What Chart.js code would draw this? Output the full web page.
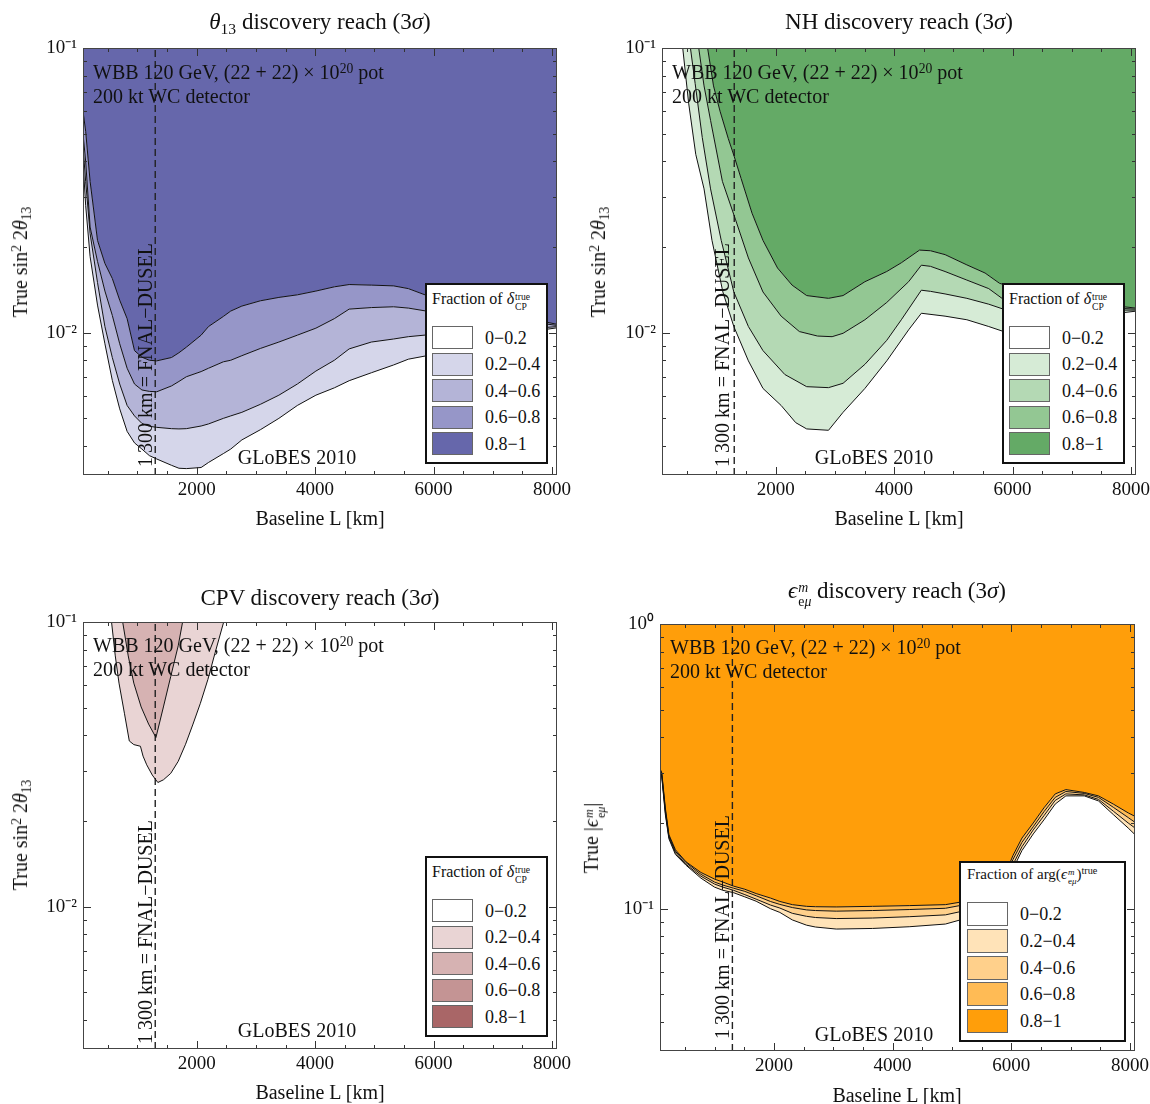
<!DOCTYPE html>
<html><head><meta charset="utf-8">
<script src="https://cdn.jsdelivr.net/npm/chart.js@4.4.1/dist/chart.umd.min.js"></script>
<style>
html,body{margin:0;padding:0;background:#fff;overflow:hidden;}
body{width:1150px;height:1104px;position:relative;font-family:"Liberation Serif","Times New Roman",serif;color:#111;}
.cv{position:absolute;}
.t{position:absolute;white-space:nowrap;transform:translate(-50%,-50%);line-height:1;}
.title{font-size:23px;}
.xl{font-size:20px;}
.rot{font-size:20px;transform:translate(-50%,-50%) rotate(-90deg);}
.ann{position:absolute;font-size:20px;line-height:24px;white-space:nowrap;}
.glo{font-size:20px;}
sup.s{font-size:0.68em;vertical-align:0;position:relative;top:-0.45em;line-height:0;}
sub.s{font-size:0.68em;vertical-align:0;position:relative;top:0.3em;line-height:0;}
.ss{display:inline-flex;flex-direction:column;font-size:0.6em;line-height:1;vertical-align:0.4em;margin-left:1px;}
.leg{position:absolute;background:#fff;border:2px solid #111;box-sizing:border-box;}
.lh{position:absolute;white-space:nowrap;line-height:1;transform:translateY(-50%);}
.sw{position:absolute;border:1px solid #666;box-sizing:border-box;}
.ll{position:absolute;font-size:18px;white-space:nowrap;line-height:1;transform:translateY(-50%);}
</style></head>
<body>
<script>
// ---------- tick values ----------
const xTickLabels = [2000, 4000, 6000, 8000];
const xTickMarks = [500,1000,1500,2000,2500,3000,3500,4000,4500,5000,5500,6000,6500,7000,7500,8000];
const yTickMarksTheta = [0.004,0.005,0.006,0.007,0.008,0.009,0.01,0.02,0.03,0.04,0.05,0.06,0.07,0.08,0.09,0.1];
const yTickLabelsTheta = [0.01, 0.1];
const yTickMarksEps = [0.04,0.05,0.06,0.07,0.08,0.09,0.1,0.2,0.3,0.4,0.5,0.6,0.7,0.8,0.9,1];
const yTickLabelsEps = [0.1, 1];
const fractionLabels = ['0\u22120.2','0.2\u22120.4','0.4\u22120.6','0.6\u22120.8','0.8\u22121'];

// ---------- panel 1: theta13 discovery (shared baseline grid) ----------
const thX   = [80,125,200,325,450,575,700,825,950,1075,1200,1325,1575,1700,1825,2075,2200,2450,2575,2763,3075,3388,3700,4013,4325,4575,4950,5325,5575,5888,6500,7200,7800,8085];
const thF08 = [0.060,0.051,0.034,0.0211,0.0175,0.0155,0.0130,0.0112,0.00865,0.0082,0.0080,0.00796,0.00818,0.0085,0.00889,0.0098,0.01051,0.0114,0.01191,0.0124,0.01294,0.0133,0.01358,0.0140,0.01449,0.01476,0.01469,0.0146,0.01428,0.0135,0.0125,0.0117,0.0110,0.0107];
const thF06 = [0.050,0.040,0.0235,0.0178,0.0140,0.0115,0.00914,0.0075,0.0066,0.00629,0.00622,0.0062,0.0065,0.00674,0.0070,0.0073,0.0075,0.0079,0.0080,0.0083,0.0088,0.00927,0.0098,0.01037,0.0112,0.0121,0.01225,0.01233,0.0122,0.0119,0.0115,0.0111,0.0108,0.0106];
const thF04 = [0.045,0.034,0.0223,0.0150,0.0105,0.00818,0.0066,0.00555,0.0051,0.0048,0.00469,0.00465,0.0046,0.00459,0.0046,0.0047,0.00478,0.0050,0.0051,0.00525,0.0056,0.00603,0.0066,0.00733,0.0080,0.00877,0.00927,0.0095,0.00968,0.00982,0.0100,0.0102,0.0104,0.0105];
const thF02 = [0.040,0.028,0.0185,0.0125,0.00914,0.0068,0.0054,0.0045,0.0041,0.0039,0.0037,0.0036,0.00342,0.00334,0.00333,0.00336,0.0035,0.00376,0.0039,0.0042,0.00456,0.0050,0.00555,0.00603,0.0064,0.00678,0.00723,0.0077,0.00807,0.0083,0.0090,0.0097,0.0102,0.0104];

// ---------- panel 2: NH discovery ([baseline, sin^2 2theta13]) ----------
const nhF08 = [[80,3],[850,0.1],[950,0.0736],[1060,0.060],[1200,0.048],[1293,0.042],[1416,0.0348],[1600,0.0263],[1785,0.0211],[2031,0.01687],[2277,0.01469],[2523,0.0135],[2892,0.0132],[3138,0.0135],[3507,0.0151],[3876,0.0164],[4122,0.0176],[4429,0.0195],[4614,0.0194],[4860,0.0188],[5229,0.0173],[5536,0.0162],[5782,0.0149],[6500,0.0135],[7300,0.0127],[8085,0.0122]];
const nhF06 = [[80,3],[700,0.1],[790,0.0736],[900,0.0557],[1100,0.034],[1323,0.0249],[1539,0.0183],[1785,0.0139],[2092,0.01143],[2400,0.01009],[2707,0.00973],[2953,0.00968],[3138,0.00995],[3507,0.0111],[3876,0.01277],[4245,0.0151],[4460,0.01726],[4614,0.0171],[4860,0.0164],[5229,0.0153],[5598,0.01428],[5844,0.0131],[6500,0.0126],[7300,0.0123],[8085,0.0121]];
const nhF04 = [[80,3],[560,0.1],[640,0.075],[760,0.0485],[900,0.032],[1080,0.0211],[1293,0.0139],[1539,0.01051],[1785,0.00865],[2154,0.00713],[2523,0.00646],[2892,0.00641],[3138,0.00664],[3507,0.00774],[3876,0.0094],[4122,0.0111],[4460,0.0141],[4614,0.01397],[4860,0.01368],[5229,0.0132],[5598,0.01259],[5844,0.0121],[6500,0.0120],[7300,0.0120],[8085,0.0120]];
const nhF02 = [[80,3],[430,0.1],[530,0.064],[650,0.0423],[790,0.032],[924,0.0211],[1108,0.0139],[1293,0.01051],[1539,0.00796],[1785,0.00637],[2092,0.00555],[2338,0.00483],[2523,0.00459],[2892,0.00454],[3138,0.00525],[3507,0.00637],[3876,0.00796],[4245,0.01023],[4460,0.0117],[4860,0.01143],[5229,0.0111],[5598,0.01051],[5844,0.0101],[6500,0.0106],[7300,0.0114],[8085,0.0119]];

// ---------- panel 3: CPV discovery ----------
const cpvInner = [[80,3],[750,0.1],[844,0.076],[938,0.061],[1062,0.0503],[1188,0.0438],[1312,0.0393],[1438,0.0503],[1562,0.0644],[1688,0.0825],[1762,0.1],[8085,3]];
const cpvOuter = [[80,3],[562,0.1],[625,0.076],[688,0.061],[781,0.0476],[862,0.0382],[938,0.0371],[1050,0.0366],[1094,0.0338],[1156,0.0315],[1250,0.029],[1344,0.0273],[1438,0.0279],[1562,0.0294],[1688,0.0324],[1812,0.0372],[1938,0.0438],[2062,0.0518],[2188,0.0627],[2312,0.0781],[2456,0.1],[8085,3]];

// ---------- panel 4: NSI eps_emu discovery (shared baseline grid) ----------
const epsX   = [80,110,170,230,340,520,770,1000,1140,1320,1510,1700,1940,2100,2310,2550,2700,3050,3660,4280,4890,5140,5500,5800,6030,6180,6370,6550,6740,6920,7230,7470,7720,7970,8085];
const epsF08 = [0.31,0.30,0.226,0.182,0.161,0.146,0.134,0.127,0.124,0.120,0.117,0.113,0.109,0.106,0.1033,0.1019,0.1016,0.1014,0.1019,0.1025,0.1033,0.1054,0.108,0.118,0.154,0.177,0.200,0.226,0.253,0.262,0.256,0.249,0.233,0.217,0.211];
const epsF06 = [0.31,0.297,0.222,0.180,0.159,0.145,0.132,0.124,0.121,0.118,0.115,0.111,0.106,0.1035,0.1009,0.0990,0.0985,0.0980,0.0985,0.0993,0.1003,0.1026,0.105,0.115,0.149,0.171,0.194,0.219,0.246,0.258,0.254,0.246,0.227,0.209,0.201];
const epsF04 = [0.31,0.293,0.218,0.178,0.157,0.143,0.130,0.122,0.119,0.116,0.112,0.108,0.103,0.1005,0.0963,0.0940,0.0931,0.0923,0.0927,0.0937,0.0951,0.0976,0.102,0.113,0.143,0.165,0.189,0.212,0.240,0.253,0.251,0.242,0.220,0.200,0.192];
const epsF02 = [0.31,0.29,0.214,0.176,0.155,0.142,0.128,0.119,0.116,0.1138,0.110,0.1062,0.100,0.097,0.0913,0.0875,0.0862,0.0848,0.0852,0.0864,0.0883,0.0913,0.097,0.110,0.138,0.160,0.183,0.205,0.233,0.249,0.249,0.239,0.214,0.192,0.182];

const FNAL = 1300;

// colours: 0-0.2, 0.2-0.4, 0.4-0.6, 0.6-0.8, 0.8-1
const cBlue   = ['#ffffff','#d5d6ea','#b4b4d7','#9696c8','#6667ab'];
const cGreen  = ['#ffffff','#d6ebd6','#b4d9b4','#93c793','#64aa66'];
const cRed    = ['#ffffff','#e9d4d4','#d6b2b2','#c49494','#a96667'];
const cOrange = ['#ffffff','#ffe3b8','#ffd08b','#ffbb55','#ff9e0a'];

// ---------- helpers ----------
const FONT = '"Liberation Serif","Times New Roman",serif';
function fromShared(xs, ys){ return xs.map((x,i)=>({x:x, y:ys[i]})); }
function fromPairs(p){ return p.map(([x,y])=>({x:x, y:y})); }
function contour(data, color, fill){
  return {data, borderColor:'#111', borderWidth:1, backgroundColor:color, fill, pointRadius:0, tension:0, clip:0};
}
const supMap = {'-':'\u207B','0':'\u2070','1':'\u00B9','2':'\u00B2'};
function decadeLabel(v){ const e = Math.round(Math.log10(v)); return '10' + String(e).split('').map(c=>supMap[c]).join(''); }

const frameTicks = {
  id:'frameTicks',
  afterDatasetsDraw(chart, args, o){
    const {ctx, chartArea:a} = chart; const xs = chart.scales.x, ys = chart.scales.y;
    ctx.save();
    ctx.strokeStyle = '#333'; ctx.lineWidth = 1;
    ctx.beginPath();
    for (const v of o.xt){
      const p = Math.round(xs.getPixelForValue(v)) + 0.5;
      const L = xTickLabels.includes(v) ? 8 : 4;
      ctx.moveTo(p, a.bottom); ctx.lineTo(p, a.bottom - L);
      ctx.moveTo(p, a.top); ctx.lineTo(p, a.top + L);
    }
    for (const v of o.yt){
      const p = Math.round(ys.getPixelForValue(v)) + 0.5;
      const L = o.yl.some(m=>Math.abs(m - v) < 1e-9) ? 8 : 4;
      ctx.moveTo(a.left, p); ctx.lineTo(a.left + L, p);
      ctx.moveTo(a.right, p); ctx.lineTo(a.right - L, p);
    }
    ctx.stroke();
    ctx.strokeStyle = '#444';
    ctx.strokeRect(Math.round(a.left)+0.5, Math.round(a.top)+0.5, Math.round(a.right - a.left) - 1, Math.round(a.bottom - a.top) - 1);
    ctx.restore();
  }
};

function makeChart(p){
  const PADT = 20, PADR = 25, YW = 70, XH = 35;
  const w = (p.R - p.L) + YW + PADR, h = (p.B - p.T) + PADT + XH;
  const c = document.createElement('canvas');
  c.className = 'cv'; c.width = w; c.height = h;
  c.style.left = (p.L - YW) + 'px'; c.style.top = (p.T - PADT) + 'px';
  c.style.width = w + 'px'; c.style.height = h + 'px';
  document.body.appendChild(c);
  const datasets = p.datasets.concat([{
    data:[{x:FNAL, y:p.ymin},{x:FNAL, y:p.ymax}], borderColor:'#222', borderWidth:1.4,
    borderDash:[7,4], fill:false, pointRadius:0, clip:0
  }]);
  new Chart(c, {
    type:'line',
    data:{datasets},
    options:{
      responsive:false, animation:false, events:[],
      layout:{padding:{left:0, top:PADT, right:PADR, bottom:0}},
      plugins:{legend:{display:false}, tooltip:{enabled:false}, filler:{drawTime:'beforeDatasetsDraw'},
        frameTicks:{xt:xTickMarks, yt:p.yt, yl:p.yl}},
      scales:{
        x:{type:'linear', min:80, max:8085,
          afterBuildTicks:s=>{ s.ticks = xTickLabels.map(v=>({value:v})); },
          afterFit:s=>{ s.height = XH; },
          grid:{display:false, drawTicks:false}, border:{display:false},
          ticks:{color:'#111', padding:4, maxRotation:0, autoSkip:false, font:{family:FONT, size:19}, callback:v=>String(v)}},
        y:{type:'logarithmic', min:p.ymin, max:p.ymax,
          afterBuildTicks:s=>{ s.ticks = p.yl.map(v=>({value:v})); },
          afterFit:s=>{ s.width = YW; },
          grid:{display:false, drawTicks:false}, border:{display:false},
          ticks:{color:'#111', padding:6, autoSkip:false, font:{family:FONT, size:19}, callback:v=>decadeLabel(v)}}
      }
    },
    plugins:[frameTicks]
  });
}

function addText(cls, x, y, html){
  const d = document.createElement('div'); d.className = 't ' + cls;
  d.style.left = x + 'px'; d.style.top = y + 'px'; d.innerHTML = html;
  document.body.appendChild(d); return d;
}
function addAnn(x, y){
  const d = document.createElement('div'); d.className = 'ann';
  d.style.left = x + 'px'; d.style.top = y + 'px';
  d.innerHTML = 'WBB 120 GeV, (22 + 22) \u00D7 10<sup class="s">20</sup> pot<br>200 kt WC detector';
  document.body.appendChild(d);
}
function addLegend(box, header, headerSize, colors, swX, swW, swH, rowTops, lblX, headY){
  const d = document.createElement('div'); d.className = 'leg';
  d.style.left = box[0] + 'px'; d.style.top = box[1] + 'px';
  d.style.width = box[2] + 'px'; d.style.height = box[3] + 'px';
  const h = document.createElement('div'); h.className = 'lh';
  h.style.left = (swX) + 'px'; h.style.top = headY + 'px'; h.style.fontSize = headerSize + 'px';
  h.innerHTML = header; d.appendChild(h);
  fractionLabels.forEach((lab, i)=>{
    const s = document.createElement('div'); s.className = 'sw';
    s.style.left = swX + 'px'; s.style.top = rowTops[i] + 'px';
    s.style.width = swW + 'px'; s.style.height = swH + 'px'; s.style.background = colors[i];
    d.appendChild(s);
    const l = document.createElement('div'); l.className = 'll';
    l.style.left = lblX + 'px'; l.style.top = (rowTops[i] + swH/2) + 'px'; l.textContent = lab;
    d.appendChild(l);
  });
  document.body.appendChild(d);
}

const dDelta = 'Fraction of <i>\u03B4</i><span class="ss"><span>true</span><span>CP</span></span>';
const dArg = 'Fraction of arg(<i>\u03F5</i><span class="ss"><span><i>m</i></span><span>e<i>\u03BC</i></span></span>)<sup class="s">true</sup>';
const ySin = 'True sin<sup class="s">2</sup> 2<i>\u03B8</i><sub class="s">13</sub>';
const yEps = 'True |<i>\u03F5</i><span class="ss"><span><i>m</i></span><span>e<i>\u03BC</i></span></span>|';
const fnal = '1\u2009300 km = FNAL\u2212DUSEL';

// ---------- panel 1 ----------
makeChart({L:83, T:48, R:557, B:475, ymin:Math.pow(10,-2.5), ymax:0.1, yt:yTickMarksTheta, yl:yTickLabelsTheta,
  datasets:[
    contour(fromShared(thX, thF08), cBlue[4], 'end'),
    contour(fromShared(thX, thF06), cBlue[3], '-1'),
    contour(fromShared(thX, thF04), cBlue[2], '-1'),
    contour(fromShared(thX, thF02), cBlue[1], '-1')
  ]});
// ---------- panel 2 ----------
makeChart({L:662, T:48, R:1136, B:475, ymin:Math.pow(10,-2.5), ymax:0.1, yt:yTickMarksTheta, yl:yTickLabelsTheta,
  datasets:[
    contour(fromPairs(nhF08), cGreen[4], 'end'),
    contour(fromPairs(nhF06), cGreen[3], '-1'),
    contour(fromPairs(nhF04), cGreen[2], '-1'),
    contour(fromPairs(nhF02), cGreen[1], '-1')
  ]});
// ---------- panel 3 ----------
makeChart({L:83, T:622, R:557, B:1049, ymin:Math.pow(10,-2.5), ymax:0.1, yt:yTickMarksTheta, yl:yTickLabelsTheta,
  datasets:[
    contour(fromPairs(cpvInner), cRed[2], 'end'),
    contour(fromPairs(cpvOuter), cRed[1], '-1')
  ]});
// ---------- panel 4 ----------
makeChart({L:660, T:624, R:1135, B:1051, ymin:Math.pow(10,-1.5), ymax:1, yt:yTickMarksEps, yl:yTickLabelsEps,
  datasets:[
    contour(fromShared(epsX, epsF08), cOrange[4], 'end'),
    contour(fromShared(epsX, epsF06), cOrange[3], '-1'),
    contour(fromShared(epsX, epsF04), cOrange[2], '-1'),
    contour(fromShared(epsX, epsF02), cOrange[1], '-1')
  ]});

// ---------- texts ----------
addText('title', 320, 21, '<i>\u03B8</i><sub class="s">13</sub> discovery reach (3<i>\u03C3</i>)');
addText('title', 899, 21, 'NH discovery reach (3<i>\u03C3</i>)');
addText('title', 320, 597, 'CPV discovery reach (3<i>\u03C3</i>)');
addText('title', 897, 594, '<i>\u03F5</i><span class="ss"><span><i>m</i></span><span>e<i>\u03BC</i></span></span> discovery reach (3<i>\u03C3</i>)');

addText('xl', 320, 518, 'Baseline L [km]');
addText('xl', 899, 518, 'Baseline L [km]');
addText('xl', 320, 1092, 'Baseline L [km]');
addText('xl', 897, 1095, 'Baseline L [km]');

addText('rot', 20, 262, ySin);
addText('rot', 598, 262, ySin);
addText('rot', 20, 835, ySin);
addText('rot', 594, 838, yEps);

addText('rot', 145, 355, fnal);
addText('rot', 722, 355, fnal);
addText('rot', 145, 932, fnal);
addText('rot', 722, 927, fnal);

addAnn(93, 60); addAnn(672, 60); addAnn(93, 633); addAnn(670, 635);

addText('glo', 297, 457, 'GLoBES 2010');
addText('glo', 874, 457, 'GLoBES 2010');
addText('glo', 297, 1030, 'GLoBES 2010');
addText('glo', 874, 1034, 'GLoBES 2010');

addLegend([425,283,123,181], dDelta, 16, cBlue, 5, 41, 23, [41,67.5,94,120.5,147], 58, 16);
addLegend([1002,283,123,181], dDelta, 16, cGreen, 5, 41, 23, [41,67.5,94,120.5,147], 58, 16);
addLegend([425,856,123,181], dDelta, 16, cRed, 5, 41, 23, [41,67.5,94,120.5,147], 58, 16);
addLegend([959,861,167,181], dArg, 15, cOrange, 6, 41, 24, [39,66,93,119,146], 59, 14);
</script>
</body></html>
